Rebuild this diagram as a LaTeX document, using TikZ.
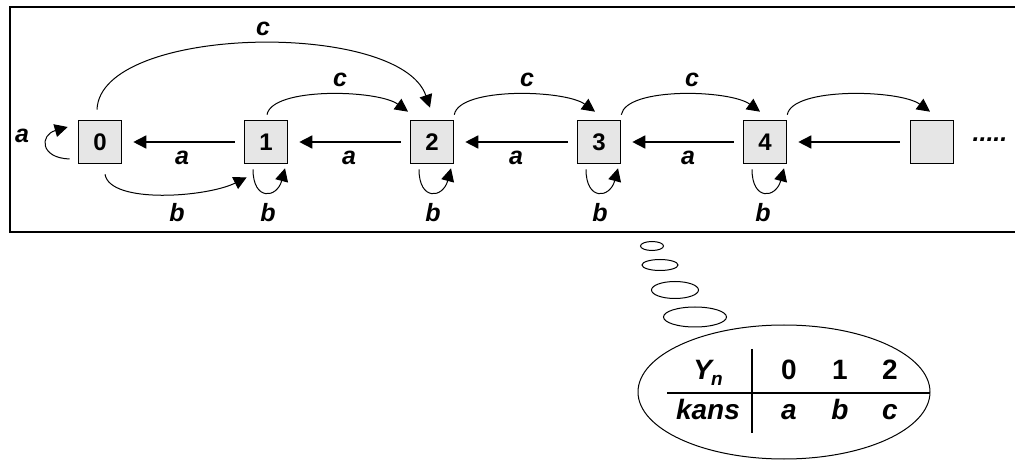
\documentclass[tikz,border=0pt]{standalone}
\usepackage{fontspec}
\setmainfont{Liberation Sans}
\usetikzlibrary{arrows.meta,calc}
\definecolor{boxfill}{HTML}{E6E6E6}
\begin{document}
\begin{tikzpicture}[x=1pt,y=-1pt,
  state/.style={draw,line width=1.6pt,fill=boxfill,minimum size=43pt,inner sep=0pt,
    font=\fontsize{24}{26}\selectfont\bfseries},
  lbl/.style={inner sep=0pt,anchor=base,font=\fontsize{25}{27}\selectfont\bfseries\itshape},
  tbl/.style={inner sep=0pt,anchor=base,font=\fontsize{28}{30}\selectfont\bfseries},
  tip/.style={-{Triangle[length=13pt,width=13pt]}},
  aline/.style={tip,line width=1.6pt},
  curve/.style={tip,line width=1pt},
  bubble/.style={draw,line width=1pt}]
\useasboundingbox (0,0) rectangle (1015,462);
\clip (0,0) rectangle (1015,462);
% frame around the chain
\draw[line width=2.2pt] (10,7) rectangle (1040,232);
% states
\node[state] (b0) at (100,142) {0};
\node[state] (b1) at (266,142) {1};
\node[state] (b2) at (432,142) {2};
\node[state] (b3) at (599,142) {3};
\node[state] (b4) at (765,142) {4};
\node[state] (b5) at (932,142) {};
\node[lbl] (dots) at (990,142) {.....};
% steps down (a)
\draw[aline] ($(b1.west)+(-9,0)$) -- ($(b0.east)+(11,0)$);
\draw[aline] ($(b2.west)+(-9,0)$) -- ($(b1.east)+(11,0)$);
\draw[aline] ($(b3.west)+(-9,0)$) -- ($(b2.east)+(11,0)$);
\draw[aline] ($(b4.west)+(-9,0)$) -- ($(b3.east)+(11,0)$);
\draw[aline] ($(b5.west)+(-10,0)$) -- ($(b4.east)+(11,0)$);
\node[lbl] (la1) at (182,165) {a};
\node[lbl] (la2) at (349,165) {a};
\node[lbl] (la3) at (516,165) {a};
\node[lbl] (la4) at (688,165) {a};
% loop a at state 0
\draw[curve] ($(b0.west)+(-8,17)$) .. controls +(-30,-1) and +(-28,8) .. ($(b0.west)+(-10,-15)$);
\node[lbl] (la0) at (22,143) {a};
% stay (b)
\draw[curve] ($(b0.south)+(5,10)$) .. controls +(5,30) and +(-40,20) .. ($(b1.south west)+(3,13)$);
\node[lbl] (lb0) at (177,222) {b};
\foreach \n in {1,2,3,4}{
  \draw[curve] ($(b\n.south)+(-13,5)$) .. controls +(0,32) and +(-8,30) .. ($(b\n.south)+(19,4)$);
}
\node[lbl] (lb1) at (268,222) {b};
\node[lbl] (lb2) at (433,222) {b};
\node[lbl] (lb3) at (600,222) {b};
\node[lbl] (lb4) at (763,222) {b};
% steps up (c)
\draw[curve] ($(b0.north)+(-3,-10)$) .. controls +(3,-85) and +(-30,-88) .. ($(b2.north)+(-2,-12)$);
\node[lbl] (lc0) at (263,36) {c};
\draw[curve] ($(b1.north)+(1,-5)$) .. controls +(5,-28) and +(-30,-22) .. ($(b2.north)+(-24,-8)$);
\draw[curve] ($(b2.north east)+(0,-5)$) .. controls +(5,-28) and +(-30,-22) .. ($(b3.north)+(-4,-8)$);
\draw[curve] ($(b3.north east)+(0,-5)$) .. controls +(5,-28) and +(-30,-22) .. ($(b4.north)+(-5,-8)$);
\draw[curve] ($(b4.north east)+(0,-5)$) .. controls +(5,-28) and +(-30,-22) .. ($(b5.north)+(-2,-8)$);
\node[lbl] (lc1) at (340,87) {c};
\node[lbl] (lc2) at (527,87) {c};
\node[lbl] (lc3) at (692,87) {c};
% thought bubbles
\draw[bubble] (652,246) ellipse [x radius=11.5, y radius=4.5];
\draw[bubble] (660,265) ellipse [x radius=18, y radius=5.5];
\draw[bubble] (675,290) ellipse [x radius=23.5, y radius=8.5];
\draw[bubble] (695,317) ellipse [x radius=31.5, y radius=10];
\draw[bubble] (784,392) ellipse [x radius=146, y radius=67];
% distribution table
\draw[line width=1.6pt] (752,349) -- (752,433);
\draw[line width=1.6pt] (667,393) -- (930,393);
\node[tbl] (ty) at (708,379) {\itshape Y\kern-1pt\raisebox{-6pt}{\fontsize{19}{20}\selectfont n}};
\node[tbl] (t0) at (789,379) {0};
\node[tbl] (t1) at (840,379) {1};
\node[tbl] (t2) at (890,379) {2};
\node[tbl] (tk) at (708,419) {\itshape kans};
\node[tbl] (ta) at (789,419) {\itshape a};
\node[tbl] (tb) at (840,419) {\itshape b};
\node[tbl] (tc) at (890,419) {\itshape c};
\end{tikzpicture}
\end{document}
